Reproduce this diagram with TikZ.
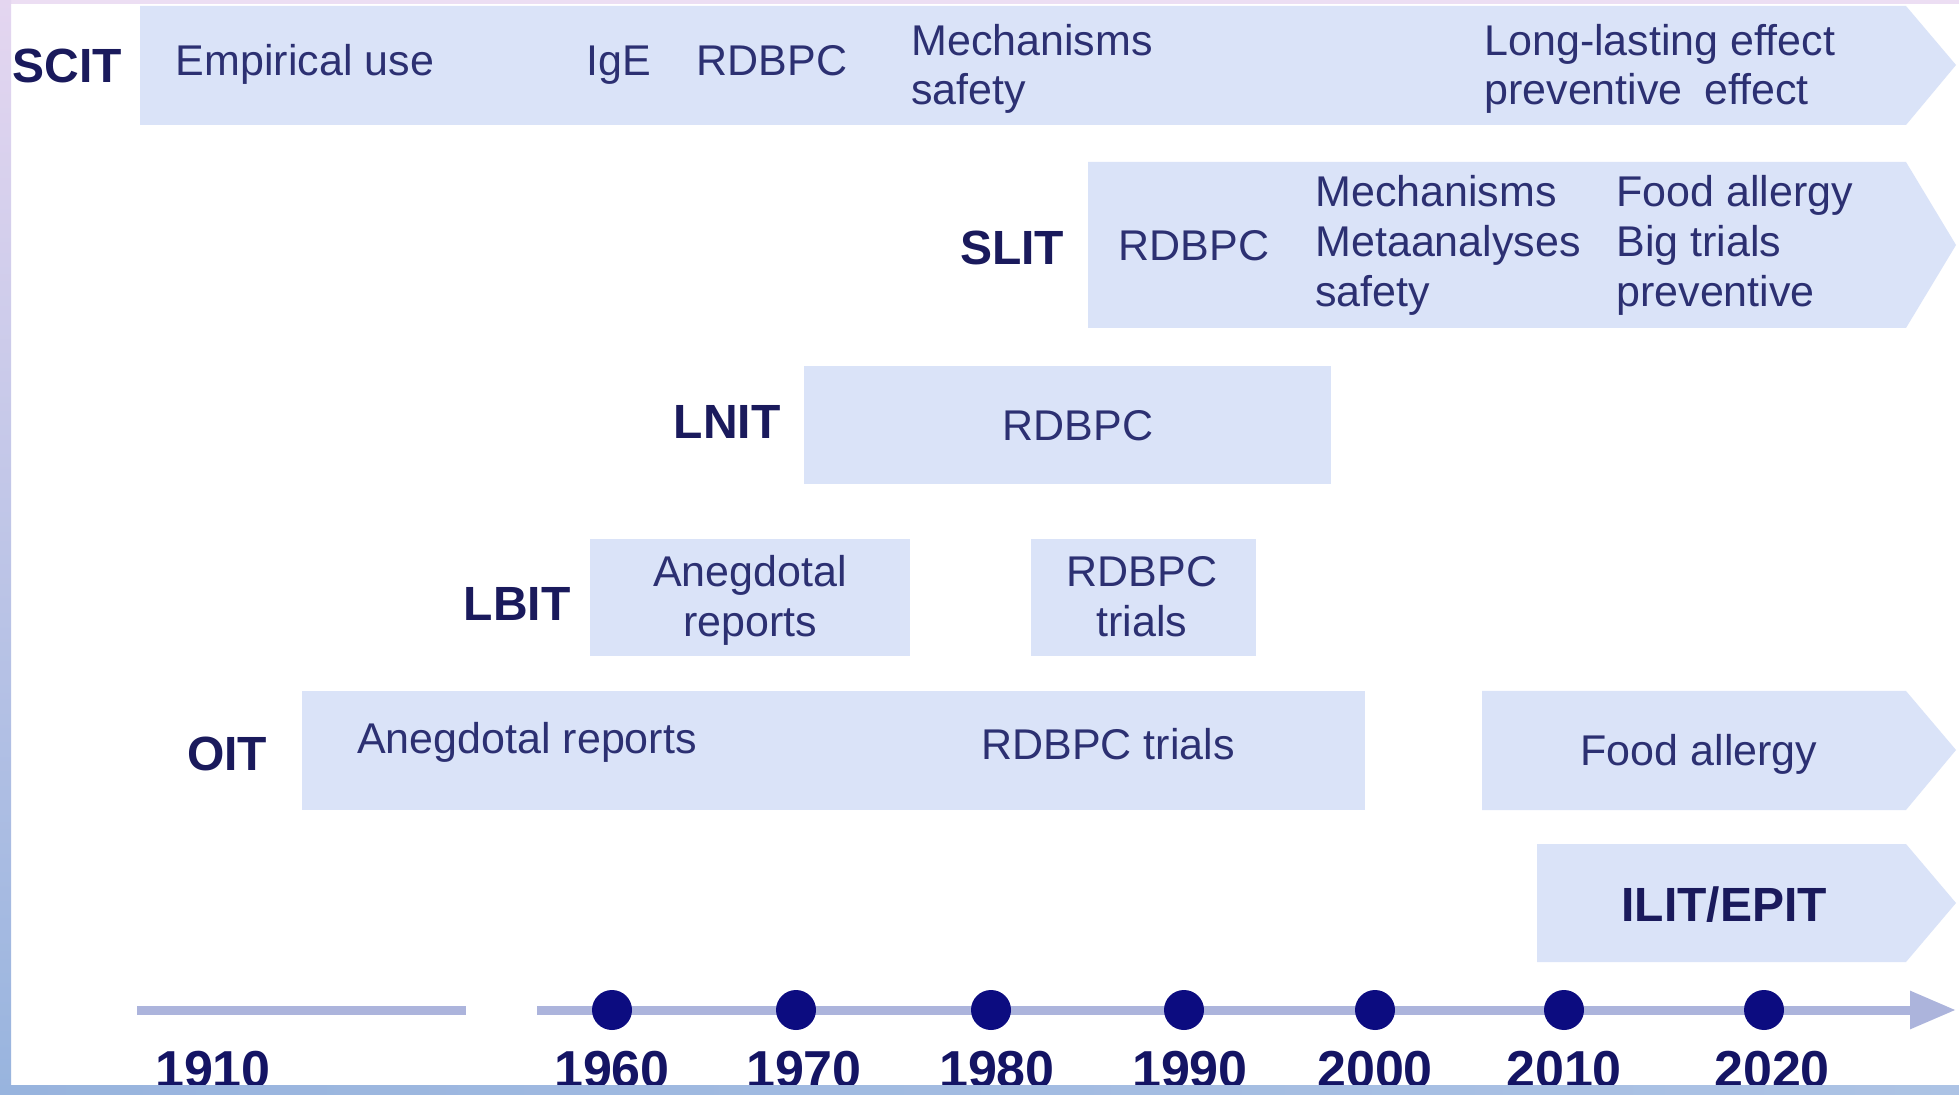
\documentclass[tikz,border=0pt]{standalone}
\usepackage{fontspec}
\setmainfont{Liberation Sans}
\usetikzlibrary{arrows.meta}
\definecolor{boxfill}{RGB}{218,227,248}
\definecolor{bodytxt}{RGB}{44,48,114}
\definecolor{labtxt}{RGB}{26,26,92}
\definecolor{yeartxt}{RGB}{20,20,100}
\definecolor{dotcol}{RGB}{12,12,128}
\definecolor{linecol}{RGB}{172,180,220}
\definecolor{frametop}{RGB}{236,222,243}
\definecolor{frameblue}{RGB}{152,180,222}
\definecolor{framelav}{RGB}{228,214,240}
\begin{document}
\begin{tikzpicture}[x=0.5pt,y=-0.5pt,
  band/.style={fill=boxfill},
  lab/.style={font=\fontsize{24}{28}\selectfont\bfseries, text=labtxt, anchor=base, inner sep=0},
  txt/.style={font=\fontsize{21.5}{25}\selectfont, text=bodytxt, anchor=base, inner sep=0},
  txtl/.style={txt, anchor=base west},
  year/.style={font=\fontsize{26}{30}\selectfont\bfseries, text=yeartxt, anchor=base, inner sep=0},
  dot/.style={circle, fill=dotcol, minimum size=20pt, inner sep=0},
  tline/.style={draw=linecol, line width=4.5pt}
]
\useasboundingbox (0,0) rectangle (1959,1095);
\fill[white] (0,0) rectangle (1959,1095);

% bands
\fill[band] (140,6) -- (1906,6) -- (1956,65) -- (1906,125) -- (140,125) -- cycle;
\fill[band] (1088,162) -- (1906,162) -- (1956,245) -- (1906,328) -- (1088,328) -- cycle;
\fill[band] (804,366) rectangle (1331,484);
\fill[band] (590,539) rectangle (910,656);
\fill[band] (1031,539) rectangle (1256,656);
\fill[band] (302,691) rectangle (1365,810);
\fill[band] (1482,691) -- (1906,691) -- (1956,750) -- (1906,810) -- (1482,810) -- cycle;
\fill[band] (1537,844) -- (1906,844) -- (1956,903) -- (1906,962) -- (1537,962) -- cycle;

% SCIT row
\node[lab] (scit) at (67,83) {SCIT};
\node[txt] (emp) at (305,76) {Empirical use};
\node[txt] (ige) at (619,76) {IgE};
\node[txt] (rd1) at (772,76) {RDBPC};
\node[txtl] (mech1) at (911,56) {Mechanisms};
\node[txtl] (saf1) at (911,105) {safety};
\node[txtl] (long) at (1484,56) {Long-lasting effect};
\node[txtl] (prev1) at (1484,105) {preventive\hspace{0.5em}effect};

% SLIT row
\node[lab] (slit) at (1012,265) {SLIT};
\node[txt] (rd2) at (1194,261) {RDBPC};
\node[txtl] (mech2) at (1315,207) {Mechanisms};
\node[txtl] (meta) at (1315,257) {Metaanalyses};
\node[txtl] (saf2) at (1315,307) {safety};
\node[txtl] (food1) at (1616,207) {Food allergy};
\node[txtl] (big) at (1616,257) {Big trials};
\node[txtl] (prev2) at (1616,307) {preventive};

% LNIT row
\node[lab] (lnit) at (727,439) {LNIT};
\node[txt] (rd3) at (1078,441) {RDBPC};

% LBIT row
\node[lab] (lbit) at (517,621) {LBIT};
\node[txt] (aneg1) at (750,587) {Anegdotal};
\node[txt] (rep1) at (750,637) {reports};
\node[txt] (rd4) at (1142,587) {RDBPC};
\node[txt] (tri1) at (1142,637) {trials};

% OIT row
\node[lab] (oit) at (227,770) {OIT};
\node[txt] (aneg2) at (527,754) {Anegdotal reports};
\node[txt] (rd5) at (1108,760) {RDBPC trials};
\node[txt] (food2) at (1699,765) {Food allergy};

% ILIT/EPIT
\node[lab] (ilit) at (1724,921) {ILIT/EPIT};

% timeline
\coordinate (ta) at (137,1010);
\coordinate (tb) at (466,1010);
\coordinate (tc) at (537,1010);
\coordinate (td) at (1956,1010);
\draw[tline] (ta) -- (tb);
\draw[tline, -{Triangle[length=23pt,width=18pt]}] (tc) -- (td);

\node[dot] (d1960) at (612,1010) {};
\node[dot] (d1970) at (796,1010) {};
\node[dot] (d1980) at (991,1010) {};
\node[dot] (d1990) at (1184,1010) {};
\node[dot] (d2000) at (1375,1010) {};
\node[dot] (d2010) at (1564,1010) {};
\node[dot] (d2020) at (1764,1010) {};

\node[year] (y1910) at (213,1087) {1910};
\node[year] (y1960) at (612,1087) {1960};
\node[year] (y1970) at (804,1087) {1970};
\node[year] (y1980) at (997,1087) {1980};
\node[year] (y1990) at (1190,1087) {1990};
\node[year] (y2000) at (1375,1087) {2000};
\node[year] (y2010) at (1564,1087) {2010};
\node[year] (y2020) at (1772,1087) {2020};

% frame
\fill[frametop] (0,0) rectangle (1959,4);
\shade[top color=framelav, bottom color=frameblue] (0,0) rectangle (11,1095);
\shade[left color=frameblue, right color=frameblue!80!white] (0,1085) rectangle (1959,1095);
\end{tikzpicture}
\end{document}
